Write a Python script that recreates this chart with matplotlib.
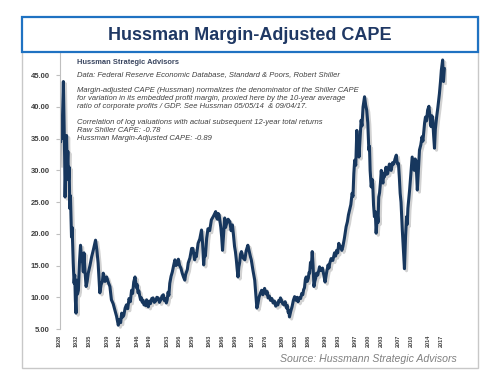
import numpy as np
import matplotlib.pyplot as plt
import matplotlib.patheffects as pe
from matplotlib.patches import Rectangle

# Hussman margin-adjusted CAPE
years = [
    1928.00, 1928.10, 1928.25, 1928.40, 1928.55, 1928.70, 1928.90, 1929.05, 1929.20, 1929.30,
    1929.45, 1929.65, 1929.80, 1929.95, 1930.10, 1930.25, 1930.40, 1930.55, 1930.80, 1930.95,
    1931.20, 1931.40, 1931.55, 1931.70, 1931.85, 1932.00, 1932.20, 1932.40, 1932.65, 1932.90,
    1933.15, 1933.40, 1933.55, 1933.70, 1933.95, 1934.20, 1934.45, 1934.70, 1935.10, 1935.50,
    1935.90, 1936.40, 1936.70, 1937.00, 1937.20, 1937.40, 1937.70, 1938.00, 1938.20, 1938.60,
    1939.00, 1939.40, 1939.75, 1940.10, 1940.50, 1940.90, 1941.30, 1941.70,
    1942.00, 1942.25, 1942.50, 1942.75, 1943.00, 1943.30, 1943.60, 1943.90, 1944.20, 1944.50,
    1944.80, 1945.05, 1945.30, 1945.60, 1945.80, 1945.95, 1946.10, 1946.30, 1946.50, 1946.70,
    1946.90, 1947.10, 1947.30, 1947.50, 1947.70, 1947.90, 1948.10, 1948.30, 1948.50, 1948.70,
    1948.95, 1949.20, 1949.50, 1949.80, 1950.10, 1950.40, 1950.70, 1951.00, 1951.30, 1951.60,
    1951.90, 1952.20, 1952.40, 1952.60, 1952.90, 1953.10, 1953.30, 1953.50,
    1953.70, 1954.00, 1954.30, 1954.60, 1954.90, 1955.15, 1955.40, 1955.70, 1956.00, 1956.30,
    1956.60, 1956.90, 1957.20, 1957.40, 1957.60, 1957.80, 1958.00, 1958.40, 1958.80, 1959.10,
    1959.30, 1959.50, 1959.70, 1959.90, 1960.10, 1960.30, 1960.70, 1961.10, 1961.35, 1961.60,
    1961.80, 1962.00, 1962.30, 1962.60, 1963.00, 1963.40, 1963.90, 1964.40, 1964.60, 1964.80,
    1965.00, 1965.20, 1965.40, 1965.60, 1965.80, 1966.00, 1966.25, 1966.50, 1966.70, 1966.90,
    1967.30, 1967.70, 1968.00, 1968.30, 1968.55, 1968.80, 1969.00, 1969.20, 1969.40, 1969.60,
    1969.80, 1970.00, 1970.20, 1970.40, 1970.80, 1971.20, 1971.50, 1971.90, 1972.10, 1972.30,
    1972.50, 1972.70, 1973.10, 1973.50, 1973.75, 1974.00, 1974.25, 1974.50, 1974.80,
    1975.10, 1975.40, 1975.80, 1976.00, 1976.20, 1976.40, 1976.60, 1976.90, 1977.20, 1977.50,
    1977.80, 1978.10, 1978.40, 1978.65, 1978.90, 1979.10, 1979.30, 1979.50, 1979.70, 1980.00,
    1980.30, 1980.60, 1980.90, 1981.10, 1981.30, 1981.45, 1981.60, 1981.90, 1982.20, 1982.50,
    1982.80, 1983.00, 1983.20, 1983.40, 1983.60, 1983.90, 1984.20, 1984.45, 1984.70, 1984.90,
    1985.10, 1985.30, 1985.50, 1985.75, 1986.00, 1986.15, 1986.30, 1986.50, 1986.70, 1986.90,
    1987.10, 1987.30, 1987.50, 1987.70, 1987.90, 1988.20, 1988.60, 1988.90, 1989.30, 1989.60,
    1989.90, 1990.20, 1990.60, 1990.80, 1991.00, 1991.30, 1991.70, 1992.10, 1992.35, 1992.60,
    1992.85, 1993.10, 1993.35, 1993.60, 1993.80, 1994.05, 1994.40, 1994.80, 1995.10, 1995.35,
    1995.60, 1995.90, 1996.20, 1996.40, 1996.60, 1996.80, 1997.05, 1997.30, 1997.45, 1997.60,
    1997.80, 1998.05, 1998.30, 1998.50, 1998.75, 1999.10, 1999.35, 1999.60, 1999.85, 2000.10,
    2000.25, 2000.40, 2000.65, 2000.85, 2001.00, 2001.20, 2001.40, 2001.60, 2001.80, 2002.10,
    2002.25, 2002.40, 2002.60, 2002.80, 2003.00, 2003.20, 2003.40, 2003.55, 2003.75, 2003.95,
    2004.10, 2004.30, 2004.50, 2004.70, 2004.90, 2005.10, 2005.30, 2005.60, 2005.90, 2006.20,
    2006.50, 2006.65, 2006.80, 2007.00, 2007.20, 2007.40, 2007.60, 2007.90, 2008.20, 2008.40,
    2008.65, 2008.90, 2009.05, 2009.20, 2009.40, 2009.60, 2009.90, 2010.20, 2010.45, 2010.70,
    2010.90, 2011.10, 2011.25, 2011.40, 2011.60, 2011.90, 2012.20, 2012.50, 2012.70, 2012.90,
    2013.10, 2013.30, 2013.55, 2013.80, 2014.10, 2014.35, 2014.60, 2014.80, 2015.00, 2015.20,
    2015.40, 2015.60, 2015.90, 2016.20, 2016.55, 2016.80, 2017.00, 2017.30, 2017.50, 2017.70,
]
cape = [
    31.0, 36.8, 34.5, 37.0, 35.0, 38.5, 44.0, 38.0, 32.0, 25.8,
    30.0, 35.5, 30.5, 33.0, 28.5, 30.5, 24.0, 26.0, 19.5, 21.0,
    15.4, 12.2, 13.5, 9.5, 7.5, 12.7, 10.5, 11.1, 15.5, 18.2,
    16.0, 15.4, 14.0, 17.0, 14.0, 11.7, 12.5, 13.8, 15.0, 16.4,
    17.5, 19.0, 17.5, 15.4, 13.0, 10.7, 12.0, 12.5, 13.8, 12.5,
    13.2, 12.3, 11.7, 9.6, 9.0, 8.0, 7.0, 5.6,
    6.5, 6.0, 7.5, 6.9, 7.2, 8.3, 8.8, 8.2, 9.8, 9.3,
    11.1, 10.6, 12.4, 13.2, 12.2, 11.5, 12.0, 10.7, 11.0, 10.2,
    9.6, 9.9, 9.2, 9.5, 8.8, 9.1, 8.7, 9.6, 9.0, 8.5,
    9.4, 9.0, 9.8, 9.9, 9.2, 9.4, 10.0, 9.9, 9.2, 9.6,
    10.2, 10.4, 9.5, 9.8, 9.1, 9.6, 10.8, 10.3,
    12.2, 13.3, 14.0, 15.0, 15.9, 15.0, 15.2, 16.0, 15.0, 14.6,
    13.8, 13.2, 12.7, 13.6, 14.0, 14.4, 15.4, 16.2, 17.7, 17.7,
    16.8, 15.9, 16.9, 16.4, 17.5, 18.5, 19.2, 20.6, 18.5, 15.1,
    16.8, 16.5, 19.3, 20.8, 20.5, 22.2, 22.8, 23.5, 22.6, 22.3,
    23.2, 23.0, 22.0, 21.0, 19.5, 17.4, 20.0, 22.5, 21.0, 21.5,
    22.3, 21.9, 20.5, 21.4, 19.8, 18.0, 17.2, 16.0, 14.5, 13.2,
    14.8, 15.5, 16.8, 17.2, 16.2, 15.9, 17.3, 18.2, 17.6, 17.0,
    16.4, 15.9, 14.2, 12.7, 10.5, 8.3, 9.0, 10.0, 10.6,
    11.1, 10.4, 11.4, 10.9, 10.5, 10.9, 9.9, 10.2, 9.5, 9.8,
    9.1, 9.4, 8.6, 9.1, 8.8, 9.5, 9.3, 9.9, 9.6, 9.0,
    8.8, 9.3, 8.3, 8.7, 7.6, 7.9, 6.9, 7.8, 8.5, 9.5,
    10.1, 9.6, 9.5, 10.0, 9.3, 9.9, 9.8, 10.6, 10.4, 11.2,
    11.5, 12.8, 13.2, 12.5, 13.0, 13.9, 13.8, 15.5, 14.8, 17.2,
    15.0, 11.7, 12.5, 13.0, 13.8, 13.5, 14.8, 14.2, 14.6, 13.5,
    12.4, 13.7, 15.1, 14.6, 15.4, 16.1, 15.8, 17.0, 16.5, 17.4,
    17.0, 18.5, 17.8, 18.0, 17.4, 18.0, 19.3, 21.1, 21.9, 23.0,
    23.7, 24.6, 26.4, 25.9, 29.5, 31.6, 30.8, 36.3, 33.0, 34.5,
    32.1, 35.0, 37.9, 37.0, 40.0, 41.6, 40.3, 39.5, 37.5, 33.2,
    33.8, 30.0, 27.4, 28.6, 27.9, 24.5, 22.7, 23.5, 20.1, 23.0,
    21.8, 25.8, 26.5, 28.0, 30.0, 28.4, 28.0, 29.5, 29.0, 29.8,
    30.5, 29.4, 29.5, 30.4, 31.0, 30.2, 30.0, 31.2, 31.0, 31.8,
    32.4, 31.5, 31.0, 31.1, 29.0, 26.4, 25.0, 20.6, 17.0, 14.5,
    19.5, 22.7, 21.5, 24.0, 25.5, 26.9, 29.5, 32.1, 31.0, 30.0,
    31.8, 31.5, 29.0, 26.9, 29.5, 33.2, 34.0, 35.3, 34.6, 36.0,
    37.5, 38.4, 37.8, 39.5, 40.1, 38.5, 36.9, 38.6, 37.9, 35.5,
    33.5, 36.5, 38.4, 40.0, 42.1, 44.0, 45.8, 47.4, 44.0, 46.0,
]
assert len(years) == len(cape)

tick_years = [1928, 1932, 1935, 1939, 1942, 1946, 1949, 1953, 1956, 1959, 1963, 1966, 1969,
              1973, 1976, 1980, 1983, 1986, 1990, 1993, 1997, 2000, 2003, 2007, 2010, 2014, 2017]
y_ticks = [5, 10, 15, 20, 25, 30, 35, 40, 45]

note_lines = [
    "Data: Federal Reserve Economic Database, Standard & Poors, Robert Shiller",
    "",
    "Margin-adjusted CAPE (Hussman) normalizes the denominator of the Shiller CAPE",
    "for variation in its embedded profit margin, proxied here by the 10-year average",
    "ratio of corporate profits / GDP. See Hussman 05/05/14  & 09/04/17.",
    "",
    "Correlation of log valuations with actual subsequent 12-year total returns",
    "Raw Shiller CAPE: -0.78",
    "Hussman Margin-Adjusted CAPE: -0.89",
]

W, H = 500, 375
fig = plt.figure(figsize=(5, 3.75), dpi=100)


def fx(px):
    return px / W


def fy(py):
    return 1 - py / H


# outer grey frame (behind the axes)
fig.patches.append(Rectangle((fx(22), fy(368)), fx(478) - fx(22), fy(17) - fy(368),
                             transform=fig.transFigure, facecolor='white',
                             edgecolor='#c8c8c8', linewidth=1.0, zorder=-5))

ax = fig.add_axes([fx(59.5), fy(329), fx(446.5) - fx(59.5), fy(53) - fy(329)])
ax.set_zorder(1)
ax.set_facecolor('none')
ax.plot(years, cape, color='#17375e', linewidth=2.2, solid_joinstyle='round',
        path_effects=[pe.SimpleLineShadow(offset=(1.5, -1.5), shadow_color='#808080', alpha=0.35),
                      pe.Normal()])

ax.set_xlim(1928, 2018.2)
ax.set_ylim(5, 48.5)
ax.set_yticks(y_ticks)
ax.set_yticklabels([f"{v:.2f}" for v in y_ticks])
ax.set_xticks(tick_years)
ax.set_xticklabels([str(y) for y in tick_years], rotation=90)

for s in ['top', 'right', 'bottom']:
    ax.spines[s].set_visible(False)
ax.spines['left'].set_color('#bfbfbf')
ax.tick_params(axis='y', length=3, color='#bfbfbf', pad=4, labelsize=5.5, labelcolor='#404040')
ax.tick_params(axis='x', length=0, pad=4, labelsize=4, labelcolor='#404040')
for lab in ax.get_yticklabels() + ax.get_xticklabels():
    lab.set_fontweight('bold')
    lab.set_family('Liberation Sans')

# title box (on top of everything)
fig.patches.append(Rectangle((fx(22), fy(52)), fx(478) - fx(22), fy(17) - fy(52),
                             transform=fig.transFigure, facecolor='white',
                             edgecolor='#1f72c2', linewidth=1.6, zorder=5))
fig.text(0.5, fy(35), "Hussman Margin-Adjusted CAPE", ha='center', va='center',
         fontsize=13, fontweight='bold', color='#1f3864',
         family='Liberation Sans', zorder=6)

# notes inside the plot area
fig.text(fx(77), fy(62), "Hussman Strategic Advisors", ha='left', va='center',
         fontsize=5.4, fontweight='bold', color='#3a4660', family='Liberation Sans', zorder=3)
for i, line in enumerate(note_lines):
    fig.text(fx(77), fy(74.5 + 8 * i), line, ha='left', va='center', fontsize=5.5,
             style='italic', color='#404040', family='Liberation Sans', zorder=3)

fig.text(fx(457), fy(359), "Source: Hussmann Strategic Advisors", ha='right', va='center',
         fontsize=7.6, style='italic', color='#808080', family='Liberation Sans')

fig.savefig('out.png', dpi=100)
